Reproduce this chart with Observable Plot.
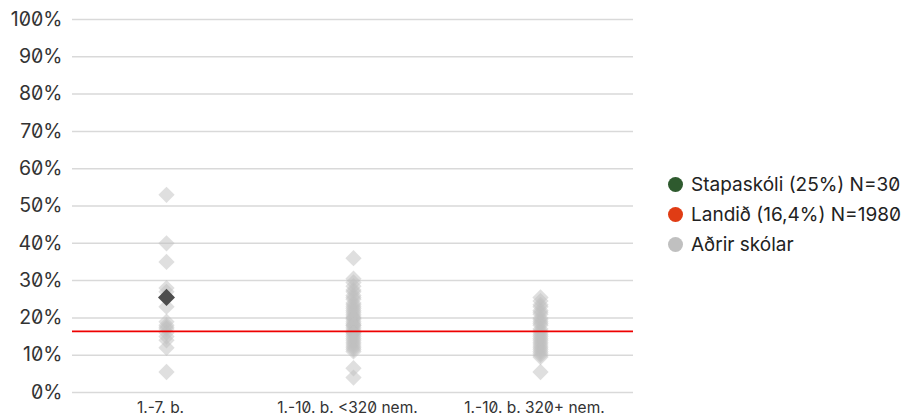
<!DOCTYPE html>
<html>
<head>
<meta charset="utf-8">
<script src="https://cdn.jsdelivr.net/npm/d3@7"></script>
<script src="https://cdn.jsdelivr.net/npm/@observablehq/plot@0.6"></script>
<style>
  html, body { margin: 0; padding: 0; background: #ffffff; }
  body { font-family: Inter, "Noto Sans", sans-serif; font-feature-settings: "zero" 1; }
  #wrap { display: flex; width: 911px; height: 419px; }
  #legend { padding-top: 169px; padding-left: 18px; font-size: 19px; color: #222; }
  .item { display: flex; align-items: center; height: 30px; white-space: nowrap; }
  .sw { width: 15px; height: 15px; border-radius: 50%; margin-right: 8px; }
  svg text { font-feature-settings: "zero" 1; }
</style>
</head>
<body>
<div id="wrap"><div id="chart"></div><div id="legend"></div></div>
<script>
const categories = ["1.-7. b.", "1.-10. b. <320 nem.", "1.-10. b. 320+ nem."];
const yTicks = [0, 10, 20, 30, 40, 50, 60, 70, 80, 90, 100];

const otherSchools1 = [53, 40, 35, 28, 27, 23, 19, 18, 17.5, 17, 16, 15, 14, 12, 5.5];
const otherSchools2 = [36, 30.5, 29.5, 28.5, 27.5, 27, 26, 25.5, 25, 24, 23.5, 23, 22.5, 22, 21.5, 21, 20.5, 20, 20, 19.5, 19, 18.5, 18, 18, 17.5, 17, 16.5, 16, 16, 15.5, 15, 14.5, 14, 13.5, 13, 12.5, 12, 11.5, 11, 6.5, 4];
const otherSchools3 = [25.5, 24.5, 23.5, 23, 22, 21.5, 21, 20, 19.5, 19, 18.5, 18, 17, 16.5, 16, 15.5, 15, 14.5, 14, 13.5, 13, 12.5, 12, 11.5, 11, 10.5, 10, 9.5, 5.5];

const schoolName = "Stapaskóli";
const schoolCategory = "1.-7. b.";
const schoolValue = 25.5;
const nationalValue = 16.4;

const legendLabels = ["Stapaskóli (25%) N=30", "Landið (16,4%) N=1980", "Aðrir skólar"];
const legendColors = ["#2e5a2e", "#e03c14", "#c0c0c0"];

const others = [
  ...otherSchools1.map(v => ({cat: categories[0], v})),
  ...otherSchools2.map(v => ({cat: categories[1], v})),
  ...otherSchools3.map(v => ({cat: categories[2], v}))
];
const school = [{cat: schoolCategory, v: schoolValue}];

const chart = Plot.plot({
  width: 650,
  height: 419,
  marginLeft: 72,
  marginRight: 17,
  marginTop: 19,
  marginBottom: 27,
  style: {fontFamily: "Inter, 'Noto Sans', sans-serif", fontSize: "16px", color: "#333", background: "#ffffff"},
  x: {type: "point", domain: categories, padding: 0.5, label: null},
  y: {domain: [0, 100], label: null},
  marks: [
    Plot.ruleY(yTicks, {stroke: "#d9d9d9", strokeWidth: 1.5}),
    Plot.axisY(yTicks, {tickSize: 0, tickPadding: 10, tickFormat: d => d + "%", fontSize: 19.5, fill: "#333", fontVariant: "normal"}),
    Plot.axisX({tickSize: 0, tickPadding: 9, fontSize: 15.5, fill: "#333", dx: -6, fontVariant: "normal"}),
    Plot.dot(others, {x: "cat", y: "v", symbol: "square", rotate: 45, r: 6.5, fill: "#c0c0c0", fillOpacity: 0.5, stroke: "none"}),
    Plot.ruleY([nationalValue], {stroke: "#ee0000", strokeWidth: 1.8}),
    Plot.dot(school, {x: "cat", y: "v", symbol: "square", rotate: 45, r: 6.8, fill: "#4d4d4d", stroke: "none"})
  ]
});
document.getElementById("chart").appendChild(chart);

const legend = document.getElementById("legend");
legendLabels.forEach((t, i) => {
  const d = document.createElement("div");
  d.className = "item";
  d.innerHTML = `<span class="sw" style="background:${legendColors[i]}"></span><span>${t}</span>`;
  legend.appendChild(d);
});
</script>
</body>
</html>
